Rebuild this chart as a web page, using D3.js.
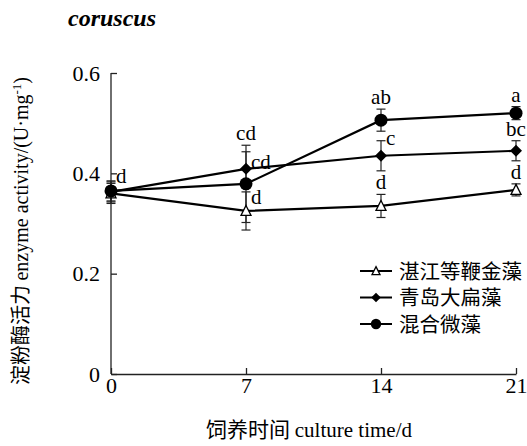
<!DOCTYPE html>
<meta charset="utf-8">
<script src="https://d3js.org/d3.v7.min.js"></script>
<body style="margin:0;background:#fff">
    <div id="viz"></div>
</body>
<style>
    text { fill: black; }
    .serif { font-family: "Liberation Serif", "Times New Roman", serif; }
    .cjk { font-family: "Noto Sans CJK SC", sans-serif; }
</style>
<script>
    // data
    let days = [0, 7, 14, 21];
    let seriesNames = ["湛江等鞭金藻", "青岛大扁藻", "混合微藻"];
    let isoMean = [0.360, 0.325, 0.335, 0.367];
    let isoErr  = [0.020, 0.038, 0.023, 0.012];
    let platMean = [0.363, 0.409, 0.435, 0.445];
    let platErr  = [0.020, 0.034, 0.030, 0.020];
    let mixMean = [0.365, 0.379, 0.506, 0.520];
    let mixErr  = [0.020, 0.077, 0.022, 0.013];
    let isoLetters = ["", "d", "d", "d"];
    let platLetters = ["", "cd", "c", "bc"];
    let mixLetters = ["d", "cd", "ab", "a"];
    let yTicks = [0, 0.2, 0.4, 0.6];

    let width = 527, height = 446;
    let svg = d3.select("#viz").append("svg")
        .attr("width", width).attr("height", height);

    let x = d3.scaleLinear().domain([0, 21]).range([111, 516]);
    let y = d3.scaleLinear().domain([0, 0.6]).range([374, 73]);

    // title
    svg.append("text").attr("class", "serif")
        .attr("x", 68).attr("y", 26)
        .style("font-size", "24px").style("font-weight", "bold").style("font-style", "italic")
        .text("coruscus");

    // axes, ticks pointing inward
    let xAxis = svg.append("g").attr("transform", "translate(0,374)")
        .call(d3.axisBottom(x).tickValues(days).tickSizeInner(-6).tickSizeOuter(0).tickPadding(3));
    let yAxis = svg.append("g").attr("transform", "translate(111,0)")
        .call(d3.axisLeft(y).tickValues(yTicks).tickFormat(d => d === 0 ? "0" : d3.format(".1f")(d))
            .tickSizeInner(-6).tickSizeOuter(0).tickPadding(11));
    [xAxis, yAxis].forEach(a => {
        a.selectAll("path, line").attr("stroke", "#222").attr("stroke-width", 1.3);
        a.selectAll(".tick text").attr("class", "serif").style("font-size", "22px").attr("fill", "black");
    });
    xAxis.selectAll(".tick text").attr("dy", "0.71em");
    yAxis.select(".domain").attr("d", `M0,${y(0.6)}V${y(0)}`);

    // axis titles
    let xt = svg.append("text").attr("x", 309).attr("y", 437).attr("text-anchor", "middle")
        .style("font-size", "21px");
    xt.append("tspan").attr("class", "cjk").text("饲养时间 ");
    xt.append("tspan").attr("class", "serif").text("culture time/d");

    let yt = svg.append("text").attr("transform", "translate(28,231) rotate(-90)")
        .attr("text-anchor", "middle").style("font-size", "20px");
    yt.append("tspan").attr("class", "cjk").text("淀粉酶活力 ");
    yt.append("tspan").attr("class", "serif").text("enzyme activity/(U·mg");
    yt.append("tspan").attr("class", "serif").attr("dy", -7).style("font-size", "13px").text("-1");
    yt.append("tspan").attr("class", "serif").attr("dy", 7).text(")");

    let series = [
        {name: seriesNames[0], mean: isoMean, err: isoErr, marker: "triangle"},
        {name: seriesNames[1], mean: platMean, err: platErr, marker: "diamond"},
        {name: seriesNames[2], mean: mixMean, err: mixErr, marker: "circle"}
    ];

    let line = d3.line().x((d, i) => x(days[i])).y(d => y(d));

    // error bars
    series.forEach(s => {
        let g = svg.append("g").attr("stroke", "#222").attr("stroke-width", 1.2);
        s.mean.forEach((m, i) => {
            let cx = x(days[i]);
            g.append("line").attr("x1", cx).attr("x2", cx).attr("y1", y(m - s.err[i])).attr("y2", y(m + s.err[i]));
            g.append("line").attr("x1", cx - 4.5).attr("x2", cx + 4.5).attr("y1", y(m + s.err[i])).attr("y2", y(m + s.err[i]));
            g.append("line").attr("x1", cx - 4.5).attr("x2", cx + 4.5).attr("y1", y(m - s.err[i])).attr("y2", y(m - s.err[i]));
        });
    });

    // lines
    series.forEach(s => {
        svg.append("path").datum(s.mean).attr("d", line)
            .attr("fill", "none").attr("stroke", "black").attr("stroke-width", 2.2);
    });

    function drawMarker(g, type, cx, cy, scale) {
        if (type === "circle") {
            g.append("circle").attr("cx", cx).attr("cy", cy).attr("r", 6.5 * scale).attr("fill", "black");
        } else if (type === "diamond") {
            let r = 6 * scale;
            g.append("path").attr("d", `M${cx},${cy - r}L${cx + r},${cy}L${cx},${cy + r}L${cx - r},${cy}Z`).attr("fill", "black");
        } else {
            let r = 5 * scale;
            g.append("path").attr("d", `M${cx},${cy - r * 1.1}L${cx + r},${cy + r * 0.9}L${cx - r},${cy + r * 0.9}Z`)
                .attr("fill", "white").attr("stroke", "black").attr("stroke-width", 1.3);
        }
    }

    series.forEach(s => {
        let g = svg.append("g");
        s.mean.forEach((m, i) => drawMarker(g, s.marker, x(days[i]), y(m), 1));
    });

    // significance letters: [day index, value anchor, text, position]
    let letters = [
        [0, mixMean[0] + 0.023, mixLetters[0], "right"],
        [1, mixMean[1] + mixErr[1], mixLetters[1], "top"],
        [1, platMean[1] + 0.008, platLetters[1], "right"],
        [1, isoMean[1] + 0.022, isoLetters[1], "right"],
        [2, mixMean[2] + mixErr[2], mixLetters[2], "top"],
        [2, platMean[2] + platErr[2], platLetters[2], "right"],
        [2, isoMean[2] + isoErr[2], isoLetters[2], "top"],
        [3, mixMean[3] + mixErr[3], mixLetters[3], "top"],
        [3, platMean[3] + platErr[3], platLetters[3], "top"],
        [3, isoMean[3] + isoErr[3], isoLetters[3], "top"]
    ];
    letters.forEach(l => {
        let t = svg.append("text").attr("class", "serif").style("font-size", "21px").text(l[2]);
        if (l[3] === "top") {
            t.attr("x", x(days[l[0]])).attr("y", y(l[1]) - 5).attr("text-anchor", "middle");
        } else {
            t.attr("x", x(days[l[0]]) + 5).attr("y", y(l[1]) + 4);
        }
    });

    // legend
    let legend = svg.append("g");
    series.forEach((s, i) => {
        let ly = 271 + i * 26.5;
        legend.append("line").attr("x1", 360).attr("x2", 392).attr("y1", ly).attr("y2", ly)
            .attr("stroke", "black").attr("stroke-width", 2);
        drawMarker(legend, s.marker, 376, ly, 0.8);
        legend.append("text").attr("class", "cjk").attr("x", 399).attr("y", ly + 7.5)
            .style("font-size", "20.5px").text(s.name);
    });
</script>
